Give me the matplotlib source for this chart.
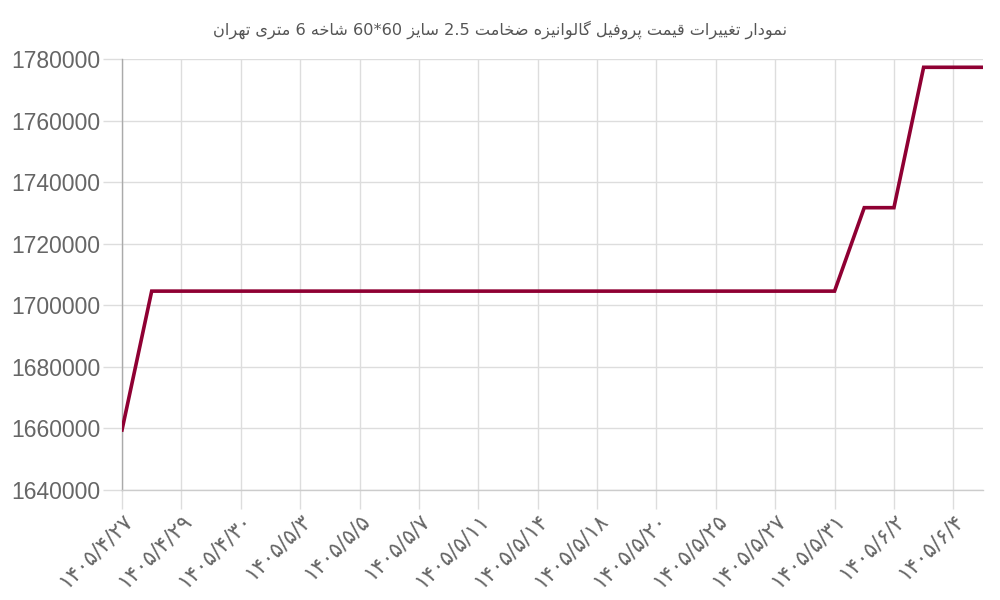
import unicodedata
import matplotlib
matplotlib.use("Agg")
import matplotlib.pyplot as plt

# ---------------- data ----------------
title_text = "نمودار تغییرات قیمت پروفیل گالوانیزه ضخامت 2.5 سایز 60*60 شاخه 6 متری تهران"

tick_labels = [
    "۱۴۰۵/۴/۲۷", "۱۴۰۵/۴/۲۹", "۱۴۰۵/۴/۳۰", "۱۴۰۵/۵/۳", "۱۴۰۵/۵/۵",
    "۱۴۰۵/۵/۷", "۱۴۰۵/۵/۱۱", "۱۴۰۵/۵/۱۴", "۱۴۰۵/۵/۱۸", "۱۴۰۵/۵/۲۰",
    "۱۴۰۵/۵/۲۵", "۱۴۰۵/۵/۲۷", "۱۴۰۵/۵/۳۱", "۱۴۰۵/۶/۲", "۱۴۰۵/۶/۴",
]

prices = [
    1659500,
    1704600, 1704600, 1704600, 1704600, 1704600, 1704600, 1704600, 1704600,
    1704600, 1704600, 1704600, 1704600, 1704600, 1704600, 1704600, 1704600,
    1704600, 1704600, 1704600, 1704600, 1704600, 1704600, 1704600, 1704600,
    1731700, 1731700,
    1777300, 1777300, 1777300,
]

y_ticks = [1640000, 1660000, 1680000, 1700000, 1720000, 1740000, 1760000, 1780000]


# ---------------- simple Arabic/Persian shaping for display ----------------
RIGHT_JOIN_ONLY = set("اآأإدذرزژوؤة")


def _is_arabic_letter(ch):
    return "ARABIC LETTER" in unicodedata.name(ch, "")


def _form(ch, form):
    name = unicodedata.name(ch, "")
    try:
        return unicodedata.lookup(name + " " + form + " FORM")
    except KeyError:
        return ch


def _shape_word(word):
    out = []
    n = len(word)
    for i, ch in enumerate(word):
        if not _is_arabic_letter(ch):
            out.append(ch)
            continue
        prev = word[i - 1] if i > 0 else None
        nxt = word[i + 1] if i < n - 1 else None
        cp = prev is not None and _is_arabic_letter(prev) and prev not in RIGHT_JOIN_ONLY
        cn = nxt is not None and _is_arabic_letter(nxt) and ch not in RIGHT_JOIN_ONLY
        if cp and cn:
            f = "MEDIAL"
        elif cp:
            f = "FINAL"
        elif cn:
            f = "INITIAL"
        else:
            f = "ISOLATED"
        out.append(_form(ch, f))
    return "".join(out)


def rtl_display(text):
    tokens = text.split(" ")
    vis = []
    for t in reversed(tokens):
        if any(_is_arabic_letter(c) for c in t):
            vis.append(_shape_word(t)[::-1])
        else:
            vis.append(t)
    return " ".join(vis)


# ---------------- plot ----------------
fig = plt.figure(figsize=(10, 6), dpi=100)
ax = fig.add_axes([0.122, 0.1833, 0.861, 0.7184])

x = list(range(len(prices)))
ax.plot(x, prices, color="#8f0033", linewidth=2.6, solid_joinstyle="miter", zorder=3)

ax.set_xlim(0, len(prices) - 1)
ax.set_ylim(y_ticks[0], y_ticks[-1])

ax.set_xticks(list(range(0, len(prices), 2)))
ax.set_xticklabels(tick_labels, rotation=45, ha="right", rotation_mode="anchor",
                   fontsize=15.5, color="#666666", family="DejaVu Sans")
ax.set_yticks(y_ticks)
ax.set_yticklabels([str(v) for v in y_ticks], fontsize=16.5, color="#666666",
                   family="Liberation Sans")

ax.grid(True, color="#dddddd", linewidth=1.0, zorder=0)
ax.tick_params(axis="x", length=13.7, width=1.0, color="#dddddd", pad=1)
ax.tick_params(axis="y", length=13.7, width=1.0, color="#dddddd", pad=2)
ax.xaxis.get_major_ticks()[0].tick1line.set_color("#bbbbbb")

for s in ("top", "right"):
    ax.spines[s].set_visible(False)
ax.spines["bottom"].set_color("#cccccc")
ax.spines["bottom"].set_linewidth(1.0)
ax.spines["left"].set_color("#aaaaaa")
ax.spines["left"].set_linewidth(1.0)

fig.text(0.5, 0.951, rtl_display(title_text), ha="center", va="center",
         fontsize=11.6, color="#555555", family="DejaVu Sans")

fig.savefig("out.png", dpi=100)
